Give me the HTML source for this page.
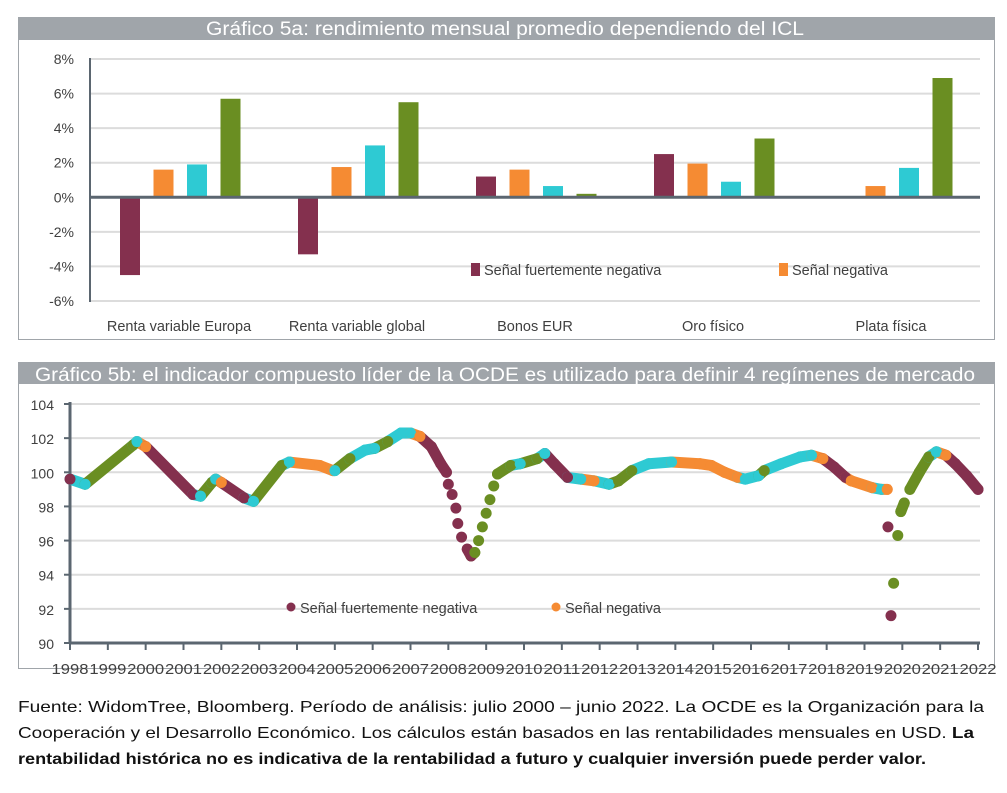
<!DOCTYPE html>
<html><head><meta charset="utf-8">
<style>
body{margin:0;background:#fff;width:1007px;height:793px;overflow:hidden;font-family:"Liberation Sans",sans-serif}
svg text{font-family:"Liberation Sans",sans-serif}
</style></head><body>
<svg id="s" width="1007" height="793" style="position:absolute;left:0;top:0">
  <g>
    <rect x="18.5" y="17.5" width="976" height="322" fill="none" stroke="#a0a5aa"/>
    <rect x="18" y="17" width="977" height="23" fill="#a0a5aa"/>
    <text x="206" y="35" font-size="19" fill="#fff" textLength="598" lengthAdjust="spacingAndGlyphs">Gráfico 5a: rendimiento mensual promedio dependiendo del ICL</text>
    <g id="g5a"></g>
  </g>
  <g>
    <rect x="18.5" y="362.5" width="976" height="306" fill="none" stroke="#a0a5aa"/>
    <rect x="18" y="362" width="977" height="22" fill="#a0a5aa"/>
    <text x="35" y="381" font-size="19" fill="#fff" textLength="940" lengthAdjust="spacingAndGlyphs">Gráfico 5b: el indicador compuesto líder de la OCDE es utilizado para definir 4 regímenes de mercado</text>
    <g id="g5b"></g>
  </g>
  <g font-size="16" fill="#111">
    <text x="18" y="712" textLength="966" lengthAdjust="spacingAndGlyphs">Fuente: WidomTree, Bloomberg. Período de análisis: julio 2000 – junio 2022. La OCDE es la Organización para la</text>
    <text x="18" y="738" textLength="956" lengthAdjust="spacingAndGlyphs">Cooperación y el Desarrollo Económico. Los cálculos están basados en las rentabilidades mensuales en USD. <tspan font-weight="bold">La</tspan></text>
    <text x="18" y="764" font-weight="bold" textLength="908" lengthAdjust="spacingAndGlyphs">rentabilidad histórica no es indicativa de la rentabilidad a futuro y cualquier inversión puede perder valor.</text>
  </g>
</svg>
<script>
const NS="http://www.w3.org/2000/svg";
const COLORS=["#84304e","#f58b33","#2ecad3","#6a8e22"];
// Chart 5a data
const categories=["Renta variable Europa","Renta variable global","Bonos EUR","Oro físico","Plata física"];
const strongNeg=[-4.5,-3.3,1.2,2.5,0];
const neg=[1.6,1.75,1.6,1.95,0.65];
const pos=[1.9,3.0,0.65,0.9,1.7];
const strongPos=[5.7,5.5,0.2,3.4,6.9];
const yTicks5a=[8,6,4,2,0,-2,-4,-6];
// Chart 5b data
const years=[1998,1999,2000,2001,2002,2003,2004,2005,2006,2007,2008,2009,2010,2011,2012,2013,2014,2015,2016,2017,2018,2019,2020,2021,2022];
const yTicks5b=[104,102,100,98,96,94,92,90];
const cliT=[1998.0,1998.4,1999.67,1999.77,2000.0,2001.25,2001.45,2001.75,2001.85,2002.0,2002.6,2002.85,2003.6,2003.8,2004.6,2004.95,2005.0,2005.4,2005.8,2006.05,2006.4,2006.75,2007.0,2007.25,2007.55,2007.8,2007.95,2008.0,2008.1,2008.2,2008.25,2008.35,2008.5,2008.6,2008.7,2008.8,2008.9,2009.0,2009.1,2009.2,2009.3,2009.65,2009.9,2010.35,2010.55,2010.8,2011.15,2011.5,2011.85,2012.25,2012.5,2012.85,2013.3,2013.9,2014.65,2014.95,2015.3,2015.65,2015.85,2016.2,2016.35,2016.8,2017.3,2017.6,2017.9,2018.2,2018.5,2018.65,2019.2,2019.45,2019.6,2019.62,2019.7,2019.77,2019.88,2019.96,2020.05,2020.2,2020.45,2020.7,2020.9,2021.15,2021.4,2021.7,2022.0];
const cliV=[99.6,99.3,101.6,101.8,101.5,98.7,98.6,99.4,99.6,99.4,98.5,98.3,100.4,100.6,100.4,100.1,100.1,100.8,101.3,101.4,101.8,102.3,102.3,102.1,101.5,100.5,100.0,99.3,98.7,97.9,97.0,96.2,95.5,95.1,95.3,96.0,96.8,97.6,98.4,99.2,99.9,100.4,100.5,100.8,101.1,100.5,99.7,99.6,99.5,99.3,99.5,100.1,100.5,100.6,100.5,100.4,100.0,99.7,99.6,99.8,100.1,100.5,100.9,101.0,100.8,100.3,99.7,99.5,99.1,99.0,99.0,96.8,91.6,93.5,96.3,97.7,98.2,99.0,100.0,100.9,101.2,101.0,100.5,99.8,99.0];
// regime: 0 strong negative, 1 negative, 2 positive, 3 strong positive
const cliR=[0,2,3,2,1,0,2,3,2,1,0,2,3,2,1,1,2,3,2,2,3,2,2,1,0,0,0,0,0,0,0,0,0,0,3,3,3,3,3,3,3,3,2,3,2,0,0,2,1,2,3,3,2,2,1,1,1,1,2,2,3,2,2,2,1,0,0,1,1,2,1,0,0,3,3,3,3,3,3,3,2,1,0,0,0];
const legendLabels=["Señal fuertemente negativa","Señal negativa"];

function el(tag,attrs,parent,txt){const e=document.createElementNS(NS,tag);for(const k in attrs)e.setAttribute(k,attrs[k]);if(txt!==undefined)e.textContent=txt;parent.appendChild(e);return e;}

// ---- 5a
(function(){
const g=document.getElementById('g5a');
const x0=90,x1=980,yTop=59,yBot=301,vMax=8,vMin=-6;
const ys=v=>yTop+(vMax-v)*(yBot-yTop)/(vMax-vMin);
const gw=(x1-x0)/categories.length;
yTicks5a.forEach(t=>{
  if(t!==0){const l=el('line',{x1:x0,x2:x1,y1:ys(t),y2:ys(t),stroke:'#dcdcdc','stroke-width':2},g);
  }
  const tx=el('text',{x:x0-16,y:ys(t)+5,'font-size':14,fill:'#404040','text-anchor':'end'},g,t+'%');
  
});
const series=[strongNeg,neg,pos,strongPos];
categories.forEach((c,i)=>{
  const cx=x0+gw*(i+0.5);
  series.forEach((s,j)=>{
    const v=s[i];if(v===0)return;
    const bx=cx-59+j*33.5;
    const r=el('rect',{x:bx,y:Math.min(ys(v),ys(0)),width:20,height:Math.abs(ys(v)-ys(0)),fill:COLORS[j]},g);
    
  });
  const t=el('text',{x:cx,y:331,'font-size':14.5,fill:'#404040','text-anchor':'middle'},g,c);
  
});
const ax=el('line',{x1:x0,x2:x1,y1:ys(0),y2:ys(0),stroke:'#5b6670','stroke-width':3},g);

const ay=el('line',{x1:x0,x2:x0,y1:yTop-1,y2:yBot+1,stroke:'#5b6670','stroke-width':2},g);

[[471,484],[779,792]].forEach((p,i)=>{
  const r=el('rect',{x:p[0],y:263,width:9,height:13,fill:COLORS[i]},g);
  
  const t=el('text',{x:p[1],y:275,'font-size':14.5,fill:'#404040'},g,legendLabels[i]);
  
});
})();

// ---- 5b
(function(){
const g=document.getElementById('g5b');
const x0=70,x1=978,yTop=404,yBot=643,vMax=104,vMin=90;
const ys=v=>yBot-(v-vMin)*(yBot-yTop)/(vMax-vMin);
const xs=t=>x0+(t-1998)*(x1-x0)/24;
yTicks5b.forEach(t=>{
  if(t!==90){const l=el('line',{x1:x0,x2:980,y1:ys(t),y2:ys(t),stroke:'#dcdcdc','stroke-width':2},g);
  }
  const k=el('line',{x1:x0-6,x2:x0,y1:ys(t),y2:ys(t),stroke:'#5b6670','stroke-width':2},g);
  
  const tx=el('text',{x:x0-16,y:ys(t)+6,'font-size':14,fill:'#404040','text-anchor':'end'},g,t);
  
});
years.forEach(y=>{
  const k=el('line',{x1:xs(y),x2:xs(y),y1:yBot,y2:yBot+7,stroke:'#5b6670','stroke-width':2},g);
  
  const t=el('text',{x:xs(y)-18.5,y:674,'font-size':15,fill:'#404040',textLength:37,lengthAdjust:'spacingAndGlyphs'},g,y);
  
});
const ax=el('line',{x1:x0,x2:x1+2,y1:yBot,y2:yBot,stroke:'#5b6670','stroke-width':3},g);

const ay=el('line',{x1:x0,x2:x0,y1:yTop-2,y2:yBot,stroke:'#5b6670','stroke-width':3},g);

for(let i=1;i<cliT.length;i++){
  const xa=xs(cliT[i-1]),ya=ys(cliV[i-1]),xb=xs(cliT[i]),yb=ys(cliV[i]);
  if(Math.abs(xb-xa)<7 && Math.abs(yb-ya)>9)continue;
  const l=el('line',{x1:xa,y1:ya,x2:xb,y2:yb,stroke:COLORS[cliR[i]],'stroke-width':11,'stroke-linecap':'round'},g);
  
}
for(let i=0;i<cliT.length;i++){
  const c=el('circle',{cx:xs(cliT[i]),cy:ys(cliV[i]),r:5.5,fill:COLORS[cliR[i]]},g);
  
}
[[291,300],[556,565]].forEach((p,i)=>{
  const c=el('circle',{cx:p[0],cy:607,r:4.5,fill:COLORS[i]},g);
  
  const t=el('text',{x:p[1],y:613,'font-size':14.5,fill:'#404040'},g,legendLabels[i]);
  
});
})();
</script>
</body></html>
